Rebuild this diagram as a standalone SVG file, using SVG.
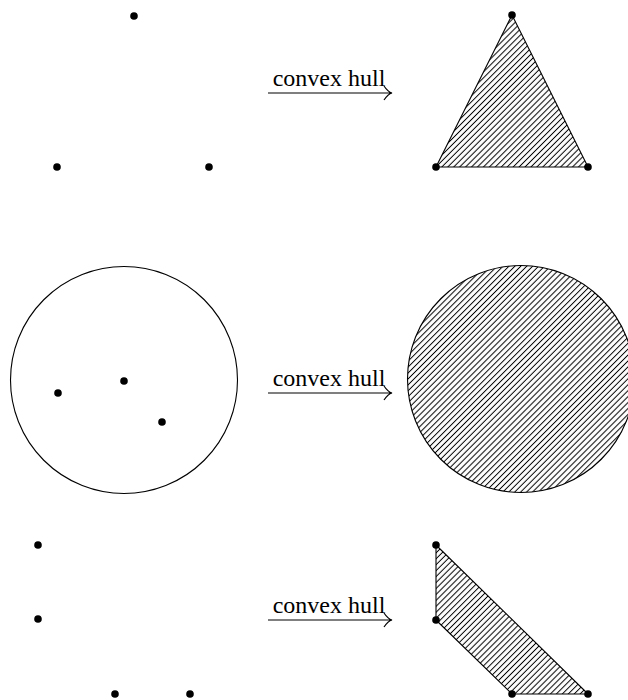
<svg xmlns="http://www.w3.org/2000/svg" width="628" height="700" viewBox="0 0 628 700">
<style>
.dot{fill:#000}
.shape{fill:url(#hatch);stroke:#000;stroke-width:1.1;stroke-linejoin:round}
.ring{fill:none;stroke:#000;stroke-width:1.1}
.arr{fill:none;stroke:#000;stroke-width:1.2}
.lbl{font-family:"Liberation Serif","DejaVu Serif",serif;font-size:24px;fill:#000;text-anchor:middle}
</style>
<defs>
<pattern id="hatch" patternUnits="userSpaceOnUse" width="4.2" height="10" patternTransform="rotate(45)">
<line x1="2.1" y1="0" x2="2.1" y2="10" stroke="#000" stroke-width="1"/>
</pattern>
</defs>
<rect width="628" height="700" fill="#fff"/>
<g id="points-triangle">
<circle class="dot" cx="134" cy="16" r="3.8"/>
<circle class="dot" cx="57" cy="167" r="3.8"/>
<circle class="dot" cx="209" cy="167" r="3.8"/>
</g>
<g id="hull-triangle">
<polygon class="shape" points="512,15 436,167 588,167"/>
<circle class="dot" cx="512" cy="15" r="3.8"/>
<circle class="dot" cx="436" cy="167" r="3.8"/>
<circle class="dot" cx="588" cy="167" r="3.8"/>
</g>
<g id="points-disc">
<circle class="ring" cx="124" cy="380" r="113.5"/>
<circle class="dot" cx="58" cy="393" r="3.8"/>
<circle class="dot" cx="124" cy="381" r="3.8"/>
<circle class="dot" cx="162" cy="422" r="3.8"/>
</g>
<g id="hull-disc">
<circle class="shape" cx="521" cy="379" r="113.5"/>
</g>
<g id="points-four">
<circle class="dot" cx="38" cy="545" r="3.8"/>
<circle class="dot" cx="38" cy="619" r="3.8"/>
<circle class="dot" cx="115" cy="694" r="3.8"/>
<circle class="dot" cx="190" cy="694" r="3.8"/>
</g>
<g id="hull-four">
<polygon class="shape" points="436,545 436,620 512,694 588,694"/>
<circle class="dot" cx="436" cy="545" r="3.8"/>
<circle class="dot" cx="436" cy="620" r="3.8"/>
<circle class="dot" cx="512" cy="694" r="3.8"/>
<circle class="dot" cx="588" cy="694" r="3.8"/>
</g>
<g id="connectors">
<g id="arrow-1">
<path class="arr" d="M268,93 H391 M384,86 Q388,92 392,93 Q388,94 384,100"/>
<text class="lbl" x="329" y="86">convex hull</text>
</g>
<g id="arrow-2">
<path class="arr" d="M268,393 H391 M384,386 Q388,392 392,393 Q388,394 384,400"/>
<text class="lbl" x="329" y="386">convex hull</text>
</g>
<g id="arrow-3">
<path class="arr" d="M268,620 H391 M384,613 Q388,619 392,620 Q388,621 384,627"/>
<text class="lbl" x="329" y="613">convex hull</text>
</g>
</g>
</svg>
